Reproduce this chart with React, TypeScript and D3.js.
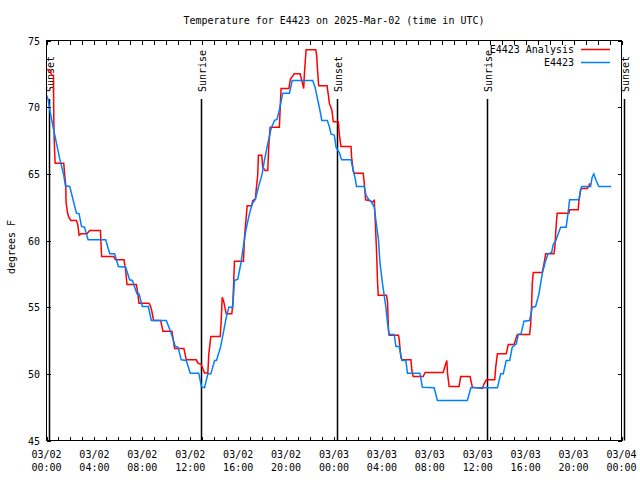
import React from "react";
import * as d3 from "d3";

const title = "Temperature for E4423 on 2025-Mar-02 (time in UTC)";
const yLabel = "degrees F";
const seriesNames = ["E4423 Analysis", "E4423"];
const seriesColors = ["#ff0000", "#0080ff"];
const startUtc = Date.UTC(2025, 2, 2);
const spanHours = 48;
const yTicks = [45, 50, 55, 60, 65, 70, 75];
const sunEvents: [number, string][] = [
  [0.23, "Sunset"],
  [12.87, "Sunrise"],
  [24.25, "Sunset"],
  [36.8, "Sunrise"],
  [48.22, "Sunset"],
];

// hours since 03/02 00:00 UTC, degrees F
const analysis: [number, number][] = [
  [0.0, 72.8], [0.28, 72.8], [0.42, 72.4], [0.58, 72.4], [0.61, 69.05], [0.63, 68.1], [0.67, 66.9], [0.72, 65.8],
  [1.44, 65.8], [1.5, 65.1], [1.61, 64.1], [1.63, 62.9], [1.75, 62.1], [1.86, 61.75], [2.03, 61.5], [2.5, 61.5],
  [2.61, 61.2], [2.72, 60.4], [2.88, 60.5], [3.38, 60.5], [3.6, 60.75], [4.5, 60.75], [4.6, 58.8], [5.61, 58.8],
  [5.75, 58.55], [6.47, 58.55], [6.61, 57.75], [6.72, 56.7], [7.5, 56.7], [7.58, 56.3], [7.72, 55.3], [8.55, 55.3],
  [8.67, 55.1], [8.78, 54.75], [8.94, 54.0], [9.53, 54.0], [9.72, 53.2], [10.47, 53.2], [10.55, 52.75], [10.69, 51.9],
  [11.47, 51.9], [11.67, 51.05], [12.5, 51.05], [12.64, 50.8], [12.92, 50.7], [13.19, 50.07], [13.47, 50.07],
  [13.55, 51.5], [13.72, 52.8], [14.5, 52.8], [14.58, 53.9], [14.63, 55.0], [14.67, 55.75], [14.8, 55.4], [15.0, 54.5],
  [15.47, 54.5], [15.55, 55.25], [15.61, 56.5], [15.69, 58.45], [16.44, 58.45], [16.53, 60.25], [16.67, 61.75],
  [16.75, 62.6], [17.13, 62.6], [17.22, 63.0], [17.44, 63.1], [17.5, 63.75], [17.63, 64.9], [17.69, 66.4],
  [17.97, 66.4], [18.05, 65.5], [18.25, 65.25], [18.47, 65.25], [18.55, 67.0], [18.67, 68.5], [19.44, 68.5],
  [19.58, 71.4], [20.23, 71.4], [20.36, 72.1], [20.69, 72.5], [21.17, 72.5], [21.38, 71.75], [21.47, 71.4],
  [21.53, 72.5], [21.67, 74.3], [22.48, 74.3], [22.55, 73.9], [22.63, 72.75], [22.72, 71.6], [23.42, 71.6],
  [23.53, 70.9], [23.61, 70.3], [23.83, 69.75], [23.94, 68.9], [24.36, 68.9], [24.44, 68.0], [24.58, 67.05],
  [25.42, 67.05], [25.47, 66.25], [25.61, 65.2], [25.69, 65.05], [26.44, 65.05], [26.53, 64.25], [26.64, 63.05],
  [26.94, 63.0], [27.22, 62.9], [27.36, 63.0], [27.44, 61.5], [27.55, 59.25], [27.63, 57.0], [27.69, 55.9],
  [28.38, 55.9], [28.47, 55.4], [28.51, 54.3], [28.55, 53.25], [28.61, 52.9], [29.38, 52.9], [29.44, 52.6],
  [29.58, 51.25], [29.67, 51.05], [30.42, 51.05], [30.5, 50.25], [30.61, 49.8], [31.44, 49.8], [31.61, 50.1],
  [33.11, 50.1], [33.33, 50.75], [33.42, 51.0], [33.47, 50.1], [33.61, 49.05], [34.44, 49.05], [34.58, 49.8],
  [35.36, 49.8], [35.55, 49.0], [36.38, 48.9], [36.53, 49.25], [36.72, 49.55], [37.42, 49.55], [37.5, 50.5],
  [37.64, 51.5], [38.38, 51.5], [38.55, 52.2], [39.03, 52.2], [39.3, 52.95], [40.33, 52.95], [40.42, 53.75],
  [40.5, 55.25], [40.55, 56.75], [40.63, 57.6], [41.38, 57.6], [41.53, 58.25], [41.67, 59.0], [42.36, 59.0],
  [42.44, 59.5], [42.5, 60.5], [42.58, 61.5], [42.63, 62.05], [43.61, 62.05], [43.67, 62.3], [44.38, 62.3],
  [44.44, 62.9], [44.58, 63.75], [44.67, 63.9], [45.13, 63.9], [45.28, 64.1], [45.36, 64.3],
];

const observed: [number, number][] = [
  [0.0, 70.9], [0.13, 70.6], [0.28, 69.75], [0.61, 68.25], [1.11, 66.1], [1.44, 64.9], [1.58, 64.1], [1.94, 64.05],
  [2.5, 62.05], [2.72, 62.0], [2.92, 61.05], [3.17, 61.0], [3.47, 60.05], [4.94, 60.05], [5.28, 59.0], [5.69, 59.0],
  [6.0, 58.05], [6.61, 58.0], [6.94, 57.05], [7.17, 57.0], [7.55, 56.0], [7.72, 56.0], [8.0, 55.05], [8.5, 55.05],
  [8.75, 54.0], [10.0, 54.0], [10.42, 53.0], [10.75, 52.05], [10.97, 52.0], [11.25, 51.05], [11.67, 51.0],
  [12.0, 50.05], [12.71, 50.05], [12.93, 49.05], [13.19, 48.95], [13.47, 50.0], [13.72, 50.0], [14.03, 51.0],
  [14.19, 51.0], [14.53, 52.0], [15.0, 54.2], [15.22, 55.0], [15.55, 55.0], [15.69, 57.0], [15.97, 57.1],
  [16.25, 58.4], [16.38, 59.25], [16.67, 60.9], [16.94, 62.0], [17.17, 62.75], [17.44, 63.1], [17.72, 64.1],
  [18.0, 65.0], [18.19, 66.0], [18.47, 67.25], [18.75, 68.4], [19.03, 69.0], [19.25, 69.1], [19.44, 69.8],
  [19.72, 71.05], [20.28, 71.05], [20.51, 72.0], [22.22, 72.0], [22.42, 71.5], [22.63, 70.6], [22.86, 69.6],
  [22.98, 69.0], [23.44, 69.0], [23.61, 68.55], [23.75, 68.0], [24.03, 67.9], [24.17, 67.0], [24.44, 66.6],
  [24.63, 66.05], [25.42, 66.05], [25.61, 65.25], [25.78, 64.6], [25.88, 64.05], [26.53, 64.05], [26.67, 63.4],
  [26.88, 63.1], [27.11, 62.9], [27.36, 62.5], [27.5, 61.5], [27.72, 60.0], [27.83, 58.4], [28.05, 56.75],
  [28.19, 55.9], [28.33, 55.0], [28.47, 53.8], [28.61, 52.95], [29.03, 52.95], [29.17, 52.05], [29.44, 52.05],
  [29.67, 51.0], [30.0, 51.0], [30.13, 50.05], [31.17, 50.05], [31.38, 49.0], [32.36, 48.95], [32.63, 48.0],
  [35.13, 48.0], [35.42, 48.95], [37.64, 48.95], [37.92, 50.0], [38.13, 50.0], [38.38, 51.0], [38.67, 51.0],
  [38.88, 52.0], [39.22, 52.25], [39.38, 52.95], [39.61, 53.0], [39.86, 53.95], [40.33, 54.0], [40.55, 55.0],
  [40.83, 55.05], [41.11, 56.0], [41.38, 57.5], [41.67, 58.5], [41.88, 59.0], [42.17, 59.1], [42.3, 59.7],
  [42.5, 59.95], [42.72, 60.5], [42.92, 61.0], [43.38, 61.0], [43.53, 62.0], [43.67, 63.05], [44.44, 63.05],
  [44.58, 63.75], [44.67, 64.05], [45.42, 64.05], [45.55, 64.75], [45.69, 65.0], [45.88, 64.5], [46.11, 64.05],
  [47.14, 64.05],
];

const W = 640;
const H = 480;
const L = 46.5;
const R = 621.5;
const T = 40.5;
const B = 440.5;
const font = "'DejaVu Sans Mono', monospace";

const toDate = (h: number) => new Date(startUtc + h * 3600 * 1000);

export default function App() {
  const x = d3.scaleUtc().domain([toDate(0), toDate(spanHours)]).range([L, R]);
  const y = d3.scaleLinear().domain([45, 75]).range([B, T]);
  const line = d3
    .line<[number, number]>()
    .x((d) => x(toDate(d[0])))
    .y((d) => y(d[1]));

  const minorTicks = x.ticks(d3.utcHour.every(1)!);
  const majorTicks = x.ticks(d3.utcHour.every(4)!);
  const fmtDate = d3.utcFormat("%m/%d");
  const fmtTime = d3.utcFormat("%H:%M");

  return (
    <svg
      width={W}
      height={H}
      style={{ position: "absolute", left: 0, top: 0, background: "#fff" }}
      fontFamily={font}
      fontSize={10}
    >
      <rect x={0} y={0} width={W} height={H} fill="#fff" />
      <text x={(L + R) / 2} y={23.5} textAnchor="middle" fill="#000">
        {title}
      </text>

      {/* sunrise / sunset markers */}
      {sunEvents.map(([h, name], i) => {
        const px = Math.round(x(toDate(h))) + 0.5;
        return (
          <g key={"sun" + i}>
            <line x1={px} x2={px} y1={99} y2={B} stroke="#000" strokeWidth={1.5} />
            <text
              transform={`translate(${px + 1},92) rotate(-90)`}
              textAnchor="start"
              dy="0.35em"
              fill="#000"
            >
              {name}
            </text>
          </g>
        );
      })}

      {/* series */}
      <path d={line(analysis) || ""} fill="none" stroke={seriesColors[0]} strokeWidth={1.5} />
      <path d={line(observed) || ""} fill="none" stroke={seriesColors[1]} strokeWidth={1.5} />

      {/* frame */}
      <rect x={L} y={T} width={R - L} height={B - T} fill="none" stroke="#000" strokeWidth={1} shapeRendering="crispEdges" />

      {/* x ticks */}
      {minorTicks.map((d, i) => {
        const px = Math.round(x(d)) + 0.5;
        return (
          <g key={"mt" + i} shapeRendering="crispEdges">
            <line x1={px} x2={px} y1={B} y2={B - 4} stroke="#000" />
            <line x1={px} x2={px} y1={T} y2={T + 4} stroke="#000" />
          </g>
        );
      })}
      {majorTicks.map((d, i) => {
        const px = x(d);
        return (
          <text key={"xl" + i} x={px} y={458} textAnchor="middle" fill="#000">
            <tspan x={px} y={458}>{fmtDate(d)}</tspan>
            <tspan x={px} y={471}>{fmtTime(d)}</tspan>
          </text>
        );
      })}

      {/* y ticks */}
      {yTicks.map((v, i) => {
        const py = Math.round(y(v)) + 0.5;
        return (
          <g key={"yt" + i}>
            <line x1={L} x2={L + 4} y1={py} y2={py} stroke="#000" shapeRendering="crispEdges" />
            <line x1={R} x2={R - 4} y1={py} y2={py} stroke="#000" shapeRendering="crispEdges" />
            <text x={40} y={py} dy="0.35em" textAnchor="end" fill="#000">
              {v}
            </text>
          </g>
        );
      })}

      <text transform={`translate(11,247) rotate(-90)`} textAnchor="middle" dy="0.35em" fill="#000">
        {yLabel}
      </text>

      {/* legend */}
      {seriesNames.map((name, i) => {
        const ly = 49.5 + i * 13;
        return (
          <g key={"lg" + i}>
            <text x={574} y={ly} dy="0.35em" textAnchor="end" fill="#000">
              {name}
            </text>
            <line x1={581} x2={610} y1={ly} y2={ly} stroke={seriesColors[i]} strokeWidth={1.5} />
          </g>
        );
      })}
    </svg>
  );
}
